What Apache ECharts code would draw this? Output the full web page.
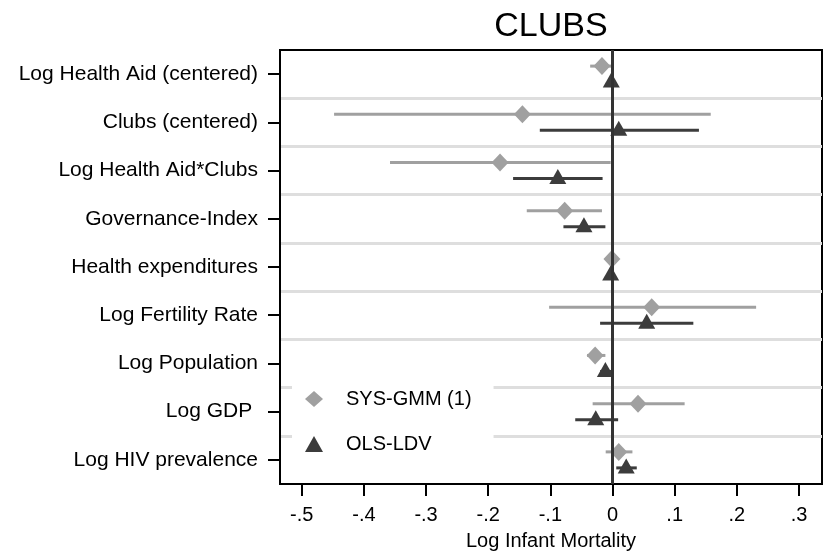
<!DOCTYPE html>
<html>
<head>
<meta charset="utf-8">
<script src="https://cdn.jsdelivr.net/npm/echarts@6/dist/echarts.min.js"></script>
<style>html,body{margin:0;padding:0;background:#fff}#c{width:830px;height:552px}</style>
</head>
<body>
<div id="c"></div>
<script>
const categories = ['Log Health Aid (centered)','Clubs (centered)','Log Health Aid*Clubs','Governance-Index','Health expenditures','Log Fertility Rate','Log Population','Log GDP ','Log HIV prevalence'];
const gmmCoef = [-0.017,-0.145,-0.181,-0.077,-0.001,0.063,-0.028,0.041,0.010];
const gmmLow  = [-0.036,-0.448,-0.358,-0.138,-0.004,-0.102,-0.041,-0.032,-0.011];
const gmmHigh = [0.000,0.158,-0.003,-0.017,0.002,0.231,-0.0115,0.116,0.032];
const olsCoef = [-0.002,0.010,-0.088,-0.046,-0.003,0.055,-0.0115,-0.027,0.022];
const olsLow  = [-0.006,-0.117,-0.160,-0.079,-0.006,-0.020,-0.020,-0.060,0.006];
const olsHigh = [0.002,0.139,-0.016,-0.0115,0.000,0.130,-0.002,0.009,0.039];
const tickValues = [-0.5,-0.4,-0.3,-0.2,-0.1,0,0.1,0.2,0.3];
const tickLabels = ['-.5','-.4','-.3','-.2','-.1','0','.1','.2','.3'];

const FONT = 'Liberation Sans, Arial, sans-serif';
const GMM_COLOR = '#a0a0a0';
const OLS_COLOR = '#3c3c3c';

function ciSeries(name, low, high, color, frac) {
  return {
    name: name, type: 'custom', z: 2, silent: true,
    data: low.map((l, i) => [l, high[i], i]),
    encode: { x: [0, 1], y: 2 },
    renderItem: function (params, api) {
      const idx = api.value(2);
      const p1 = api.coord([api.value(0), idx]);
      const p2 = api.coord([api.value(1), idx]);
      const off = api.size([0, 1])[1] * frac;
      return { type: 'line', shape: { x1: p1[0], y1: p1[1] + off, x2: p2[0], y2: p2[1] + off },
               style: { stroke: color, lineWidth: 3 } };
    }
  };
}

const chart = echarts.init(document.getElementById('c'), null, { renderer: 'canvas' });
chart.setOption({
  animation: false,
  backgroundColor: '#fff',
  textStyle: { fontFamily: FONT },
  title: { text: 'CLUBS', left: 546, textAlign: 'center', top: 5,
           textStyle: { fontFamily: FONT, fontSize: 34, fontWeight: 'normal', color: '#000' } },
  grid: { left: 280, right: 8, top: 50, bottom: 68, outerBoundsMode: 'none', containLabel: false,
          show: true, borderColor: '#000', borderWidth: 2, backgroundColor: 'transparent' },
  legend: {
    data: [{ name: 'SYS-GMM (1)', icon: 'diamond' }, { name: 'OLS-LDV', icon: 'triangle' }],
    orient: 'vertical', left: 292, top: 378,
    itemWidth: 18, itemHeight: 16, itemGap: 25,
    backgroundColor: '#fff', padding: [11, 22, 11, 13],
    textStyle: { fontFamily: FONT, fontSize: 20, color: '#000', padding: [0, 0, 0, 18] }
  },
  xAxis: {
    type: 'value', min: -0.535, max: 0.337,
    name: 'Log Infant Mortality', nameLocation: 'middle', nameGap: 47,
    nameTextStyle: { fontFamily: FONT, fontSize: 20, color: '#000' },
    axisLine: { show: true, onZero: false, lineStyle: { color: '#000', width: 2 } },
    axisTick: { show: true, length: 12, lineStyle: { color: '#000', width: 2 }, customValues: tickValues },
    axisLabel: { fontFamily: FONT, fontSize: 20, color: '#000', margin: 21, customValues: tickValues,
                 formatter: v => { const i = tickValues.findIndex(t => Math.abs(t - v) < 1e-9); return i >= 0 ? tickLabels[i] : ''; } },
    splitLine: { show: false }
  },
  yAxis: {
    type: 'category', data: categories, inverse: true,
    axisLine: { show: true, onZero: false, lineStyle: { color: '#000', width: 2 } },
    axisTick: { show: true, alignWithLabel: true, length: 12, lineStyle: { color: '#000', width: 2 } },
    axisLabel: { fontFamily: FONT, fontSize: 21, color: '#000', margin: 22 },
    splitLine: { show: true, showMinLine: false, showMaxLine: false, lineStyle: { color: '#dedede', width: 3 } }
  },
  series: [
    ciSeries('gmm-ci', gmmLow, gmmHigh, GMM_COLOR, -0.166),
    ciSeries('ols-ci', olsLow, olsHigh, OLS_COLOR, 0.166),
    {
      name: 'zero', type: 'line', data: [], z: 3,
      markLine: { silent: true, symbol: 'none', label: { show: false },
                  lineStyle: { color: '#333', width: 3, type: 'solid' }, data: [{ xAxis: 0 }] }
    },
    {
      name: 'SYS-GMM (1)', type: 'scatter', z: 4, symbol: 'diamond', symbolSize: [17, 18],
      symbolOffset: [0, -8], itemStyle: { color: GMM_COLOR, opacity: 1 },
      data: gmmCoef.map((v, i) => [v, i])
    },
    {
      name: 'OLS-LDV', type: 'scatter', z: 4, symbol: 'triangle', symbolSize: [17, 15],
      symbolOffset: [0, 6], itemStyle: { color: OLS_COLOR, opacity: 1 },
      data: olsCoef.map((v, i) => [v, i])
    }
  ]
});
</script>
</body>
</html>
